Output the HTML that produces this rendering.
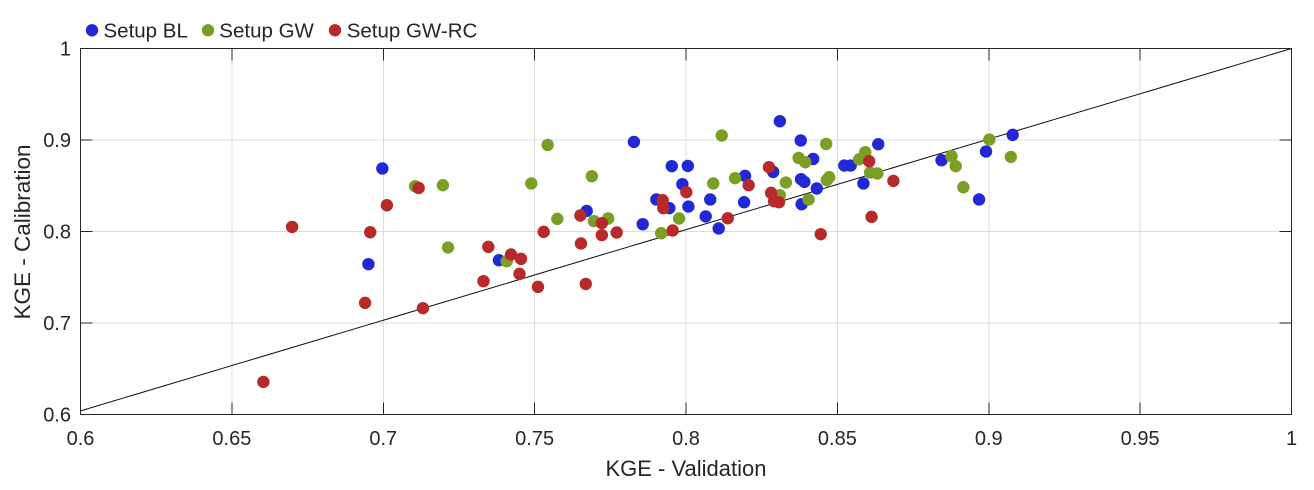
<!DOCTYPE html>
<html>
<head>
<meta charset="utf-8">
<title>KGE Calibration vs Validation</title>
<style>
html,body{margin:0;padding:0;background:#fff;width:1314px;height:490px;overflow:hidden}
svg{display:block}
text{font-family:"Liberation Sans",sans-serif;fill:#262626}
</style>
</head>
<body>
<svg id="chart" width="1314" height="490" viewBox="0 0 1314 490" xmlns="http://www.w3.org/2000/svg">
  <g id="grid" shape-rendering="crispEdges"></g>
  <g id="ticks" shape-rendering="crispEdges"></g>
  <g id="refline"></g>
  <g id="points"></g>
  <rect x="80.5" y="48.5" width="1211" height="366" fill="none" stroke="#262626" stroke-width="1.2" shape-rendering="crispEdges"></rect>
  <g id="labels"></g>
  <text x="686" y="476" font-size="22" text-anchor="middle">KGE - Validation</text>
  <text transform="translate(30,232) rotate(-90)" font-size="22.5" text-anchor="middle">KGE - Calibration</text>
  <g>
    <g>
      <circle cx="92" cy="30.3" r="6.2" fill="#2029d4"></circle>
      <text x="103.5" y="37.5" font-size="20.5" fill="#1a1a1a">Setup BL</text>
    </g>
    <g>
      <circle cx="208" cy="30.3" r="6.2" fill="#7a9f25"></circle>
      <text x="219.3" y="37.5" font-size="20.5" fill="#1a1a1a">Setup GW</text>
    </g>
    <g>
      <circle cx="335" cy="30.3" r="6.2" fill="#b82a2a"></circle>
      <text x="346.7" y="37.5" font-size="20.5" fill="#1a1a1a">Setup GW-RC</text>
    </g>
  </g>
</svg>
<script>
const xTicks = [0.6, 0.65, 0.7, 0.75, 0.8, 0.85, 0.9, 0.95, 1];
const yTicks = [0.6, 0.7, 0.8, 0.9, 1];
const xTickLabels = ["0.6", "0.65", "0.7", "0.75", "0.8", "0.85", "0.9", "0.95", "1"];
const yTickLabels = ["0.6", "0.7", "0.8", "0.9", "1"];

const blValidation = [.6997,.6951,.7382,.7672,.7828,.7857,.7902,.7945,.7953,.7988,.8006,.8008,.8065,.8080,.8108,.8192,.8195,.8288,.8310,.8379,.8380,.8391,.8382,.8420,.8432,.8523,.8544,.8586,.8635,.8844,.8968,.8991,.9079];
const blCalibration = [.8689,.7643,.7686,.8225,.8979,.8080,.8350,.8255,.8714,.8517,.8717,.8273,.8165,.8350,.8033,.8320,.8608,.8651,.9205,.8995,.8572,.8542,.8298,.8793,.8470,.8721,.8721,.8525,.8954,.8779,.8350,.8874,.9056];

const gwValidation = [.7105,.7197,.7214,.7408,.7489,.7543,.7575,.7689,.7696,.7743,.7918,.7977,.8090,.8118,.8162,.8310,.8330,.8372,.8394,.8405,.8463,.8465,.8473,.8572,.8592,.8608,.8632,.8877,.8891,.8916,.9002,.9073];
const gwCalibration = [.8495,.8506,.7825,.7675,.8525,.8946,.8138,.8604,.8113,.8142,.7981,.8142,.8525,.9049,.8583,.8397,.8535,.8804,.8757,.8350,.8957,.8561,.8593,.8790,.8867,.8645,.8634,.8823,.8714,.8484,.9005,.8815];

const rcValidation = [.6604,.6699,.6940,.6957,.7012,.7117,.7131,.7331,.7347,.7422,.7455,.7450,.7511,.7530,.7651,.7653,.7669,.7722,.7722,.7771,.7923,.7925,.7956,.8001,.8138,.8207,.8274,.8281,.8291,.8307,.8445,.8605,.8613,.8685];
const rcCalibration = [.6356,.8050,.7220,.7992,.8287,.8476,.7162,.7457,.7832,.7749,.7701,.7537,.7395,.7996,.8175,.7869,.7427,.8091,.7960,.7989,.8342,.8255,.8011,.8430,.8145,.8506,.8703,.8422,.8331,.8320,.7971,.8768,.8160,.8553];

const refLineX = [0.6, 1];
const refLineY = [0.604, 1];

const svgNS = "http://www.w3.org/2000/svg";
const plot = {left: 80.5, right: 1291.5, top: 48.5, bottom: 414.5};
function xScale(v) { return plot.left + (v - 0.6) / 0.4 * (plot.right - plot.left); }
function yScale(v) { return plot.bottom - (v - 0.6) / 0.4 * (plot.bottom - plot.top); }
function make(tag, parent, attrs, content) {
  const el = document.createElementNS(svgNS, tag);
  for (const k in attrs) el.setAttribute(k, attrs[k]);
  if (content !== undefined) el.textContent = content;
  parent.appendChild(el);
  return el;
}
const gridG = document.getElementById("grid");
const ticksG = document.getElementById("ticks");
const labelsG = document.getElementById("labels");
const lineG = document.getElementById("refline");
const pointsG = document.getElementById("points");

xTicks.forEach(function (t, i) {
  const x = xScale(t);
  if (i > 0 && i < xTicks.length - 1) {
    const g = make("line", gridG, {x1: x, x2: x, y1: plot.top, y2: plot.bottom, stroke: "#dcdcdc", "stroke-width": 1});
    
    
    const a = make("line", ticksG, {x1: x, x2: x, y1: plot.top, y2: plot.top + 12, stroke: "#262626", "stroke-width": 1});
    
    
    const b = make("line", ticksG, {x1: x, x2: x, y1: plot.bottom - 12, y2: plot.bottom, stroke: "#262626", "stroke-width": 1});
    
    
  }
  const l = make("text", labelsG, {x: x, y: 445, "font-size": 20, "text-anchor": "middle"}, xTickLabels[i]);
  
  
});

yTicks.forEach(function (t, i) {
  const y = yScale(t);
  if (i > 0 && i < yTicks.length - 1) {
    const g = make("line", gridG, {x1: plot.left, x2: plot.right, y1: y, y2: y, stroke: "#dcdcdc", "stroke-width": 1});
    
    
    const a = make("line", ticksG, {x1: plot.left, x2: plot.left + 12, y1: y, y2: y, stroke: "#262626", "stroke-width": 1});
    
    
    const b = make("line", ticksG, {x1: plot.right - 12, x2: plot.right, y1: y, y2: y, stroke: "#262626", "stroke-width": 1});
    
    
  }
  const l = make("text", labelsG, {x: 71, y: y + 7, "font-size": 20, "text-anchor": "end"}, yTickLabels[i]);
  
  
});

const refLine = make("line", lineG, {x1: xScale(refLineX[0]), y1: yScale(refLineY[0]), x2: xScale(refLineX[1]), y2: yScale(refLineY[1]), stroke: "#111", "stroke-width": 1});



function drawBl() {
  blValidation.forEach(function (v, i) {
    const c = make("circle", pointsG, {cx: xScale(v), cy: yScale(blCalibration[i]), r: 6.2, fill: "#2029d4"});
    
    
  });
}
function drawGw() {
  gwValidation.forEach(function (v, i) {
    const c = make("circle", pointsG, {cx: xScale(v), cy: yScale(gwCalibration[i]), r: 6.2, fill: "#7a9f25"});
    
    
  });
}
function drawRc() {
  rcValidation.forEach(function (v, i) {
    const c = make("circle", pointsG, {cx: xScale(v), cy: yScale(rcCalibration[i]), r: 6.2, fill: "#b82a2a"});
    
    
  });
}
drawBl();
drawGw();
drawRc();
</script>
</body>
</html>
